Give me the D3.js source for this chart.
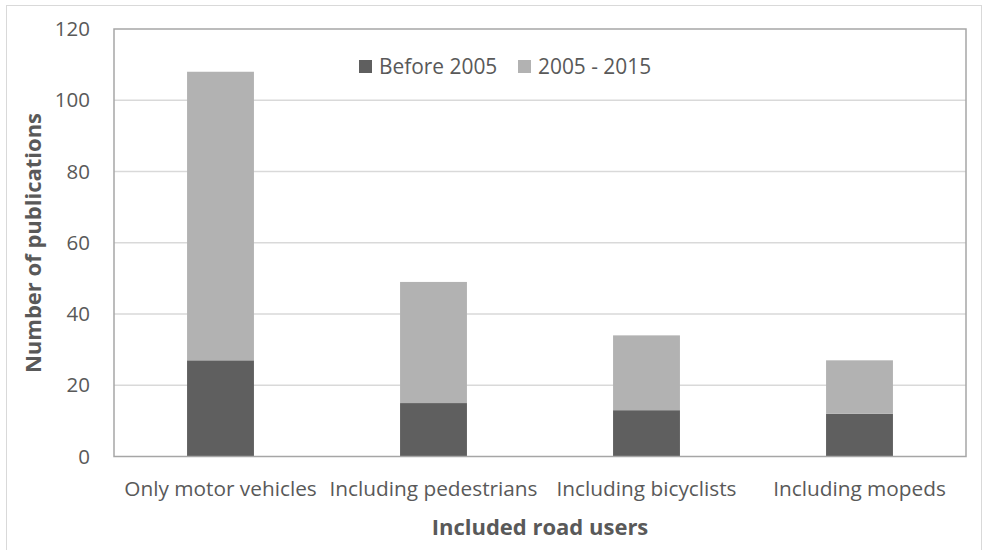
<!DOCTYPE html>
<html>
<head>
<meta charset="utf-8">
<script src="https://cdn.jsdelivr.net/npm/d3@7"></script>
<style>
  body { margin: 0; background: #fff; }
  text { font-family: "Open Sans", sans-serif; fill: #595959; }
</style>
</head>
<body>
<div id="chart"></div>
<script>
// Data
const categories = ["Only motor vehicles", "Including pedestrians", "Including bicyclists", "Including mopeds"];
const seriesNames = ["Before 2005", "2005 - 2015"];
const before2005 = [27, 15, 13, 12];
const from2005to2015 = [81, 34, 21, 15];
const yTicks = [0, 20, 40, 60, 80, 100, 120];
const colors = ["#5f5f5f", "#b2b2b2"];

// Dimensions
const width = 988, height = 550;
const plot = { left: 114, top: 29, right: 966, bottom: 456.5 };

const svg = d3.select("#chart").append("svg")
  .attr("width", width).attr("height", height);

// outer chart border
svg.append("rect")
  .attr("x", 6.5).attr("y", 5.5)
  .attr("width", width - 13).attr("height", height)
  .attr("fill", "none").attr("stroke", "#d9d9d9");

const table = categories.map((c, i) => ({ cat: c, s0: before2005[i], s1: from2005to2015[i] }));
const stacked = d3.stack().keys(["s0", "s1"])(table);

const x = d3.scaleBand().domain(categories)
  .range([plot.left, plot.right]).paddingInner(0.686).paddingOuter(0.343);
const y = d3.scaleLinear().domain([0, 120]).range([plot.bottom, plot.top]);

// gridlines
svg.append("g").selectAll("line").data(yTicks.slice(1, -1)).join("line")
  .attr("x1", plot.left).attr("x2", plot.right)
  .attr("y1", d => y(d)).attr("y2", d => y(d))
  .attr("stroke", "#d9d9d9").attr("stroke-width", 1.3);

// bars
svg.append("g").selectAll("g").data(stacked).join("g")
  .attr("fill", (d, i) => colors[i])
  .selectAll("rect").data(d => d).join("rect")
  .attr("x", d => x(d.data.cat))
  .attr("width", x.bandwidth())
  .attr("y", d => y(d[1]))
  .attr("height", d => y(d[0]) - y(d[1]));

// plot frame
svg.append("rect")
  .attr("x", plot.left).attr("y", plot.top)
  .attr("width", plot.right - plot.left).attr("height", plot.bottom - plot.top)
  .attr("fill", "none").attr("stroke", "#a6a6a6").attr("stroke-width", 1.5);

// y axis
const yAxis = d3.axisLeft(y).tickValues(yTicks).tickSize(0).tickPadding(24);
svg.append("g").attr("transform", `translate(${plot.left},0)`).call(yAxis)
  .call(g => g.select(".domain").remove())
  .selectAll("text").style("font-size", "20.5px").attr("fill", "#595959")
  .style("font-family", "'Open Sans', sans-serif");

// x axis
const xAxis = d3.axisBottom(x).tickSize(0).tickPadding(24.7);
svg.append("g").attr("transform", `translate(0,${plot.bottom})`).call(xAxis)
  .call(g => g.select(".domain").remove())
  .selectAll("text").style("font-size", "20.8px").attr("fill", "#595959")
  .style("font-family", "'Open Sans', sans-serif");

// axis titles
svg.append("text")
  .attr("x", 540).attr("y", 535)
  .attr("text-anchor", "middle")
  .style("font-size", "22px").style("font-weight", "bold")
  .text("Included road users");

svg.append("text")
  .attr("transform", "translate(41,243) rotate(-90)")
  .attr("text-anchor", "middle")
  .style("font-size", "22px").style("font-weight", "bold")
  .text("Number of publications");

// legend
const legendX = [359, 518];
const legend = svg.append("g").selectAll("g").data(seriesNames).join("g")
  .attr("transform", (d, i) => `translate(${legendX[i]},60)`);
legend.append("rect").attr("width", 13).attr("height", 13)
  .attr("fill", (d, i) => colors[i]);
legend.append("text").attr("x", 20).attr("y", 13.5)
  .style("font-size", "20.9px").text(d => d);
</script>
</body>
</html>
